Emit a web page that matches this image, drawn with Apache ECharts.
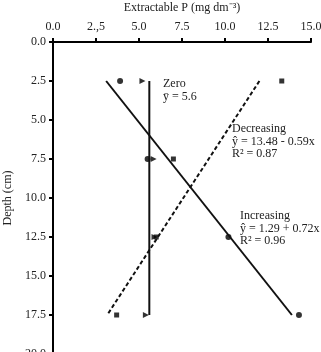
<!DOCTYPE html>
<html>
<head>
<meta charset="utf-8">
<script src="https://cdn.jsdelivr.net/npm/echarts@6/dist/echarts.min.js"></script>
<style>
  html, body { margin: 0; padding: 0; background: #fff; }
  #chart { width: 321px; height: 352px; }
</style>
</head>
<body>
<div id="chart"></div>
<script>
// depths (cm) sampled
const depths = [2.5, 7.5, 12.5, 17.5]
// extractable P per treatment
const increasingP = [3.9, 5.5, 10.2, 14.3]
const zeroP = [5.2, 5.85, 5.9, 5.4]
const decreasingP = [13.3, 7.0, 6.0, 3.7]
// fitted lines, end points at 2.5 and 17.5 cm
const lineDepths = [2.5, 17.5]
const increasingFit = [3.09, 13.89]
const zeroFit = [5.6, 5.6]
const decreasingFit = [12.0, 3.15]
// axis tick labels
const xTickLabels = { 0: '0.0', 2.5: '2.,5', 5: '5.0', 7.5: '7.5', 10: '10.0', 12.5: '12.5', 15: '15.0' }

const font = 'Liberation Serif'

function pairs (xs, ys) {
  return xs.map((x, i) => [x, ys[i]])
}

let chart = echarts.init(document.getElementById('chart'))
chart.setOption({
  animation: false,
  textStyle: { fontFamily: font },
  grid: { left: 53, right: 10, top: 42, bottom: -2, outerBoundsMode: 'none', containLabel: false },
  xAxis: {
    type: 'value',
    position: 'top',
    min: 0,
    max: 15,
    interval: 2.5,
    name: 'Extractable P (mg dm⁻³)',
    nameLocation: 'middle',
    nameGap: 28,
    nameTextStyle: { fontFamily: font, fontSize: 12, color: '#222' },
    axisLine: { lineStyle: { color: '#000', width: 2 } },
    axisTick: { show: true, length: 4, lineStyle: { color: '#000', width: 2 } },
    axisLabel: {
      fontFamily: font, fontSize: 12, color: '#222', margin: 9,
      formatter: function (v) { return xTickLabels[v] }
    },
    splitLine: { show: false }
  },
  yAxis: {
    type: 'value',
    inverse: true,
    min: 0,
    max: 20,
    interval: 2.5,
    name: 'Depth (cm)',
    nameLocation: 'middle',
    nameGap: 38,
    nameTextStyle: { fontFamily: font, fontSize: 12, color: '#222' },
    axisLine: { lineStyle: { color: '#000', width: 2 } },
    axisTick: { show: true, length: 4, lineStyle: { color: '#000', width: 2 } },
    axisLabel: {
      fontFamily: font, fontSize: 12, color: '#222', margin: 7,
      formatter: function (v) { return v.toFixed(1) }
    },
    splitLine: { show: false }
  },
  graphic: [
    {
      type: 'text', left: 163, top: 77,
      style: { text: 'Zero\nȳ = 5.6', font: '12px ' + font, fill: '#222', lineHeight: 13 }
    },
    {
      type: 'text', left: 232, top: 123,
      style: { text: 'Decreasing\nŷ = 13.48 - 0.59x\nR² = 0.87', font: '12px ' + font, fill: '#222', lineHeight: 12.5 }
    },
    {
      type: 'text', left: 240, top: 210,
      style: { text: 'Increasing\nŷ = 1.29 + 0.72x\nR² = 0.96', font: '12px ' + font, fill: '#222', lineHeight: 12.5 }
    }
  ],
  series: [
    {
      type: 'line',
      data: pairs(increasingFit, lineDepths),
      symbol: 'none',
      lineStyle: { color: '#111', width: 2 }
    },
    {
      type: 'line',
      data: pairs(zeroFit, lineDepths),
      symbol: 'none',
      lineStyle: { color: '#111', width: 2 }
    },
    {
      type: 'line',
      data: pairs(decreasingFit, lineDepths),
      symbol: 'none',
      lineStyle: { color: '#111', width: 2, type: [4, 2.5] }
    },
    {
      type: 'scatter',
      data: pairs(increasingP, depths),
      symbol: 'circle',
      symbolSize: 6,
      itemStyle: { color: '#000' }
    },
    {
      type: 'scatter',
      data: pairs(zeroP, depths),
      symbol: 'triangle',
      symbolRotate: -90,
      symbolSize: 6,
      itemStyle: { color: '#000' }
    },
    {
      type: 'scatter',
      data: pairs(decreasingP, depths),
      symbol: 'rect',
      symbolSize: 5,
      itemStyle: { color: '#000' }
    }
  ]
})
</script>
</body>
</html>
